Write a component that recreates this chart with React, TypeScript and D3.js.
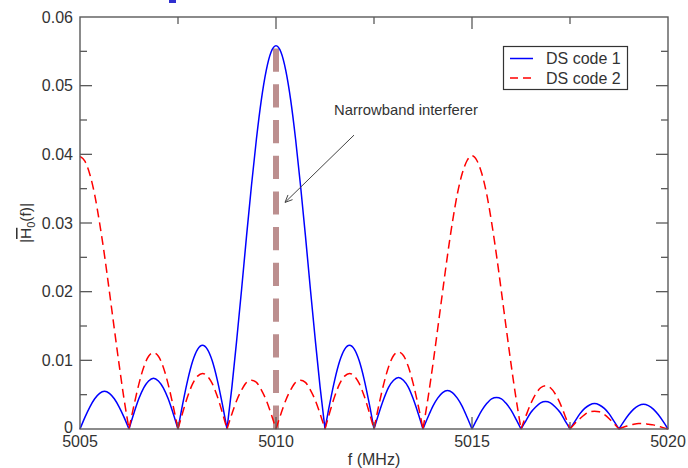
import React from 'react';
import * as d3 from 'd3';

// ---- data ----
const freqStart = 5005;
const freqStep = 0.125; // MHz sampling grid
const blueValues = [
  0, 0.0017, 0.0032, 0.0044, 0.0052, 0.0055, 0.0052, 0.0044, 0.0032, 0.0017,
  0, 0.0023, 0.0044, 0.0060, 0.0070, 0.0074, 0.0070, 0.0060, 0.0044, 0.0023,
  0, 0.0038, 0.0072, 0.0099, 0.0116, 0.0122, 0.0116, 0.0099, 0.0072, 0.0038,
  0, 0.0061, 0.0131, 0.0205, 0.0282, 0.0355, 0.0422, 0.0479, 0.0522, 0.0549,
  0.0558, 0.0549, 0.0522, 0.0479, 0.0422, 0.0355, 0.0282, 0.0205, 0.0131, 0.0061,
  0, 0.0038, 0.0072, 0.0099, 0.0116, 0.0122, 0.0116, 0.0099, 0.0072, 0.0038,
  0, 0.0023, 0.0044, 0.0061, 0.0071, 0.0075, 0.0071, 0.0061, 0.0044, 0.0023,
  0, 0.0017, 0.0033, 0.0045, 0.0053, 0.0056, 0.0053, 0.0045, 0.0033, 0.0017,
  0, 0.0014, 0.0027, 0.0037, 0.0044, 0.0046, 0.0044, 0.0037, 0.0027, 0.0014,
  0, 0.0012, 0.0024, 0.0032, 0.0038, 0.0040, 0.0038, 0.0032, 0.0024, 0.0012,
  0, 0.0011, 0.0022, 0.0030, 0.0035, 0.0037, 0.0035, 0.0030, 0.0022, 0.0011,
  0, 0.0011, 0.0021, 0.0029, 0.0034, 0.0036, 0.0034, 0.0029, 0.0021, 0.0011,
  0,
];
const redValues = [
  0.0397, 0.0390, 0.0371, 0.0341, 0.0300, 0.0253, 0.0200, 0.0146, 0.0093, 0.0043,
  0, 0.0034, 0.0065, 0.0090, 0.0106, 0.0111, 0.0106, 0.0090, 0.0065, 0.0034,
  0, 0.0025, 0.0048, 0.0066, 0.0077, 0.0081, 0.0077, 0.0066, 0.0048, 0.0025,
  0, 0.0022, 0.0042, 0.0057, 0.0068, 0.0071, 0.0068, 0.0057, 0.0042, 0.0022,
  0, 0.0022, 0.0042, 0.0057, 0.0068, 0.0071, 0.0068, 0.0057, 0.0042, 0.0022,
  0, 0.0025, 0.0048, 0.0066, 0.0077, 0.0081, 0.0077, 0.0066, 0.0048, 0.0025,
  0, 0.0035, 0.0066, 0.0091, 0.0107, 0.0112, 0.0107, 0.0091, 0.0066, 0.0035,
  0, 0.0044, 0.0093, 0.0146, 0.0200, 0.0253, 0.0301, 0.0342, 0.0372, 0.0391,
  0.0398, 0.0391, 0.0372, 0.0342, 0.0301, 0.0253, 0.0200, 0.0146, 0.0093, 0.0044,
  0, 0.0019, 0.0037, 0.0051, 0.0060, 0.0063, 0.0060, 0.0051, 0.0037, 0.0019,
  0, 0.0008, 0.0015, 0.0021, 0.0025, 0.0026, 0.0025, 0.0021, 0.0015, 0.0008,
  0, 0.0003, 0.0005, 0.0007, 0.0008, 0.0008, 0.0007, 0.0006, 0.0004, 0.0002,
  0,
];
const freqs = blueValues.map((_, i) => freqStart + i * freqStep);

const seriesNames = ['DS code 1', 'DS code 2'];
const xTickValues = [5005, 5010, 5015, 5020];
const xTickLabels = ['5005', '5010', '5015', '5020'];
const xMinorTicks = [5007.5, 5012.5, 5017.5];
const yTickValues = [0, 0.01, 0.02, 0.03, 0.04, 0.05, 0.06];
const yTickLabels = ['0', '0.01', '0.02', '0.03', '0.04', '0.05', '0.06'];
const yMinorTicks = [0.005, 0.015, 0.025, 0.035, 0.045, 0.055];

const interfererFreq = 5010;
const interfererLevel = 0.0554;
const annotationText = 'Narrowband interferer';
const arrowFrom = [5011.99, 0.0428];
const arrowTo = [5010.23, 0.0330];
const annotationAnchor = [5011.48, 0.0458];

const xLabel = 'f (MHz)';

// ---- layout ----
const W = 688, H = 468;
const left = 80, right = 668, top = 17, bottom = 429;
const font = '"Liberation Sans", Arial, sans-serif';
const frameColor = '#5a5a5a';
const textColor = '#333';

function splitLobes(vals: number[]) {
  const segs: [number, number][][] = [];
  let cur: [number, number][] = [];
  vals.forEach((v, i) => {
    cur.push([freqs[i], v]);
    if (v === 0 && cur.length > 1) {
      segs.push(cur);
      cur = [[freqs[i], v]];
    }
  });
  if (cur.length > 1) segs.push(cur);
  return segs;
}

export default function App() {
  const x = d3.scaleLinear().domain([5005, 5020]).range([left, right]);
  const y = d3.scaleLinear().domain([0, 0.06]).range([bottom, top]);
  const line = d3
    .line<[number, number]>()
    .x((d) => x(d[0]))
    .y((d) => y(d[1]))
    .curve(d3.curveMonotoneX);

  const bluePath = splitLobes(blueValues).map((s) => line(s)).join('');
  const redPath = splitLobes(redValues).map((s) => line(s)).join('');

  const ax0 = x(arrowFrom[0]), ay0 = y(arrowFrom[1]);
  const ax1 = x(arrowTo[0]), ay1 = y(arrowTo[1]);
  const ang = Math.atan2(ay1 - ay0, ax1 - ax0);
  const headLen = 8, headAng = (24 * Math.PI) / 180;
  const h1 = [ax1 - headLen * Math.cos(ang - headAng), ay1 - headLen * Math.sin(ang - headAng)];
  const h2 = [ax1 - headLen * Math.cos(ang + headAng), ay1 - headLen * Math.sin(ang + headAng)];

  const majorLen = 12, minorLen = 7;

  return (
    <svg
      width={W}
      height={H}
      style={{ position: 'absolute', left: 0, top: 0, background: '#fff' }}
      fontFamily={font}
    >
      <rect x={0} y={0} width={W} height={H} fill="#fff" />
      {/* fragment of the slide title above the chart */}
      <rect x={169} y={0} width={7} height={3} fill="#2f2fd0" />

      {/* interferer */}
      <line
        x1={x(interfererFreq)}
        x2={x(interfererFreq)}
        y1={y(interfererLevel)}
        y2={y(0)}
        stroke="#bc8f8f"
        strokeWidth={6}
        strokeDasharray="23.2,12.5"
      />

      {/* series */}
      <path d={bluePath} fill="none" stroke="#0000ff" strokeWidth={1.5} />
      <path d={redPath} fill="none" stroke="#ff0000" strokeWidth={1.5} strokeDasharray="9,5" />

      {/* frame */}
      <rect x={left} y={top} width={right - left} height={bottom - top} fill="none" stroke={frameColor} strokeWidth={1.4} />

      {/* ticks */}
      {xTickValues.slice(1, -1).map((v) => (
        <g key={'xt' + v}>
          <line x1={x(v)} x2={x(v)} y1={bottom} y2={bottom - majorLen} stroke={frameColor} strokeWidth={1.3} />
          <line x1={x(v)} x2={x(v)} y1={top} y2={top + majorLen} stroke={frameColor} strokeWidth={1.3} />
        </g>
      ))}
      {xMinorTicks.map((v) => (
        <g key={'xm' + v}>
          <line x1={x(v)} x2={x(v)} y1={bottom} y2={bottom - minorLen} stroke={frameColor} strokeWidth={1.3} />
          <line x1={x(v)} x2={x(v)} y1={top} y2={top + minorLen} stroke={frameColor} strokeWidth={1.3} />
        </g>
      ))}
      {yTickValues.slice(1, -1).map((v) => (
        <g key={'yt' + v}>
          <line x1={left} x2={left + majorLen} y1={y(v)} y2={y(v)} stroke={frameColor} strokeWidth={1.3} />
          <line x1={right} x2={right - majorLen} y1={y(v)} y2={y(v)} stroke={frameColor} strokeWidth={1.3} />
        </g>
      ))}
      {yMinorTicks.map((v) => (
        <g key={'ym' + v}>
          <line x1={left} x2={left + minorLen} y1={y(v)} y2={y(v)} stroke={frameColor} strokeWidth={1.3} />
          <line x1={right} x2={right - minorLen} y1={y(v)} y2={y(v)} stroke={frameColor} strokeWidth={1.3} />
        </g>
      ))}

      {/* tick labels */}
      {xTickValues.map((v, i) => (
        <text key={'xl' + v} x={x(v)} y={447} textAnchor="middle" fontSize={16} fill={textColor}>
          {xTickLabels[i]}
        </text>
      ))}
      {yTickValues.map((v, i) => (
        <text key={'yl' + v} x={73} y={y(v) - (v === 0 ? 1.5 : 0)} dy="0.36em" textAnchor="end" fontSize={16} fill={textColor}>
          {yTickLabels[i]}
        </text>
      ))}

      {/* axis labels */}
      <text x={(left + right) / 2} y={465} textAnchor="middle" fontSize={16} fill={textColor}>
        {xLabel}
      </text>
      <text
        transform={`translate(31,${(top + bottom) / 2}) rotate(-90)`}
        textAnchor="middle"
        fontSize={15.5}
        fill={textColor}
      >
        |<tspan style={{ textDecoration: 'overline' }}>H</tspan>
        <tspan fontSize={11} dy={4}>0</tspan>
        <tspan dy={-4}>(f)|</tspan>
      </text>

      {/* annotation */}
      <text x={x(annotationAnchor[0])} y={y(annotationAnchor[1])} fontSize={14.8} fill={textColor}>
        {annotationText}
      </text>
      <line x1={ax0} y1={ay0} x2={ax1} y2={ay1} stroke="#444" strokeWidth={1} />
      <polyline
        points={`${h1[0]},${h1[1]} ${ax1},${ay1} ${h2[0]},${h2[1]}`}
        fill="none"
        stroke="#444"
        strokeWidth={1}
      />

      {/* legend */}
      <g>
        <rect x={503.5} y={46.5} width={124} height={43} fill="#fff" stroke="#333" strokeWidth={1.2} />
        <line x1={510} x2={533} y1={58.5} y2={58.5} stroke="#0000ff" strokeWidth={1.5} />
        <line x1={510} x2={533} y1={78} y2={78} stroke="#ff0000" strokeWidth={1.5} strokeDasharray="8,5" />
        <text x={546} y={64.3} fontSize={16} fill={textColor}>{seriesNames[0]}</text>
        <text x={546} y={84} fontSize={16} fill={textColor}>{seriesNames[1]}</text>
      </g>
    </svg>
  );
}
